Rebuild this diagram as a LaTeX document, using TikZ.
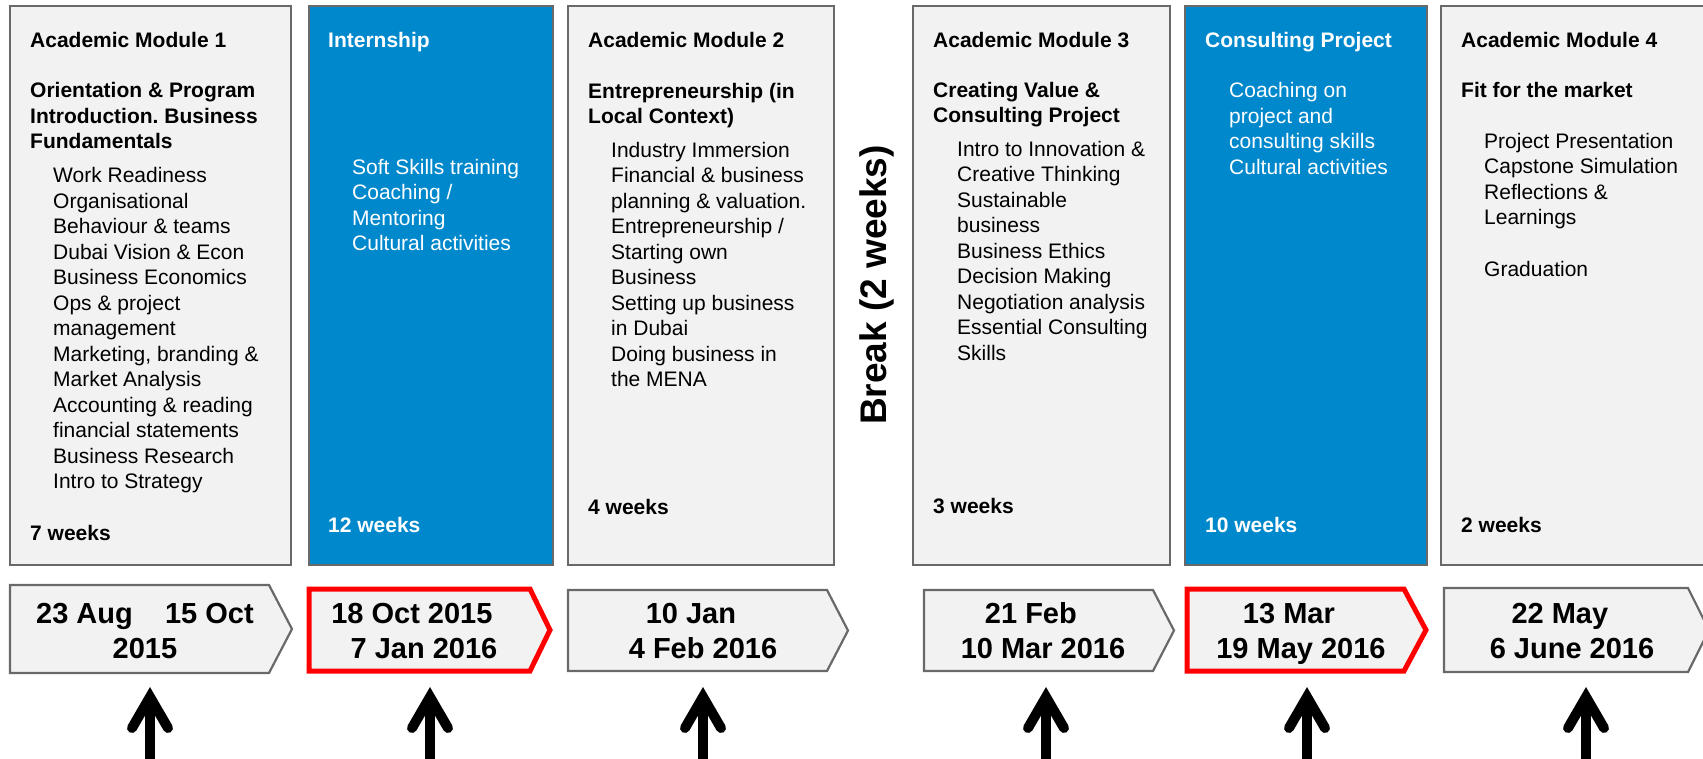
\documentclass[tikz,border=0pt]{standalone}
\usepackage{fontspec}
\setmainfont{Liberation Sans}
\definecolor{boxgray}{HTML}{F2F2F2}
\definecolor{edgegray}{HTML}{696969}
\definecolor{blu}{HTML}{0088CC}
\newcommand\txtlines[5]{%
  \foreach \lbl [count=\i from 0] in {#5}
    \node[#1] (#4\i) at (#2, #3+25.5*\i) {\lbl};}
\frenchspacing
\begin{document}
\begin{tikzpicture}[x=1pt,y=-1pt,
  graybox/.style={draw=edgegray, line width=2.2pt, fill=boxgray},
  bluebox/.style={draw=edgegray, line width=2.2pt, fill=blu},
  pent/.style={draw=edgegray, line width=2.2pt, fill=boxgray, line join=miter},
  redpent/.style={draw=red, line width=5pt, fill=boxgray, line join=miter},
  ttl/.style={anchor=base west, inner sep=0pt, font=\frenchspacing\bfseries\fontsize{21}{25.5}\selectfont},
  body/.style={anchor=base west, inner sep=0pt, font=\frenchspacing\fontsize{21}{25.5}\selectfont},
  datetxt/.style={anchor=center, inner sep=0pt, align=center, font=\bfseries\fontsize{29}{35}\selectfont},
  shaft/.style={line width=10.5pt},
  head/.style={line width=10pt, line cap=round, line join=miter}]
\useasboundingbox (0,0) rectangle (1703,758);

% module boxes
\draw[graybox] (10,6) rectangle (291,565);
\draw[bluebox] (309,6) rectangle (553,565);
\draw[graybox] (568,6) rectangle (834,565);
\draw[graybox] (913,6) rectangle (1170,565);
\draw[bluebox] (1185,6) rectangle (1427,565);
\draw[graybox] (1441,6) rectangle (1712,565);

% box 1
\node[ttl] (t1) at (30,47.5) {Academic Module 1};
\txtlines{ttl}{30}{97.5}{s1}{Orientation \& Program, Introduction.\ Business, Fundamentals}
\txtlines{body}{53}{182.5}{b1}{Work Readiness, Organisational, Behaviour \& teams, Dubai Vision \& Econ, Business Economics, Ops \& project, management, {Marketing, branding \&}, Market Analysis, Accounting \& reading, financial statements, Business Research, Intro to Strategy}
\node[ttl] (w1) at (30,540.5) {7 weeks};

% box 2
\node[ttl, text=white] (t2) at (328,47) {Internship};
\txtlines{body, text=white}{352}{174}{b2}{Soft Skills training, Coaching /, Mentoring, Cultural activities}
\node[ttl, text=white] (w2) at (328,532) {12 weeks};

% box 3
\node[ttl] (t3) at (588,47.5) {Academic Module 2};
\txtlines{ttl}{588}{98}{s3}{Entrepreneurship (in, Local Context)}
\txtlines{body}{611}{157}{b3}{Industry Immersion, Financial \& business, planning \& valuation., Entrepreneurship /, Starting own, Business, Setting up business, in Dubai, Doing business in, the MENA}
\node[ttl] (w3) at (588,514) {4 weeks};

% break
\node[rotate=90, inner sep=0pt, font=\bfseries\fontsize{37}{40}\selectfont] (brk) at (877,285) {Break (2 weeks)};

% box 4
\node[ttl] (t4) at (933,47) {Academic Module 3};
\txtlines{ttl}{933}{97}{s4}{Creating Value \&, Consulting Project}
\txtlines{body}{957}{156}{b4}{Intro to Innovation \&, Creative Thinking, Sustainable, business, Business Ethics, Decision Making, Negotiation analysis, Essential Consulting, Skills}
\node[ttl] (w4) at (933,513) {3 weeks};

% box 5
\node[ttl, text=white] (t5) at (1205,47) {Consulting Project};
\txtlines{body, text=white}{1229}{97.5}{b5}{Coaching on, project and, consulting skills, Cultural activities}
\node[ttl, text=white] (w5) at (1205,532) {10 weeks};

% box 6
\node[ttl] (t6) at (1461,47) {Academic Module 4};
\node[ttl] (s6) at (1461,97) {Fit for the market};
\txtlines{body}{1484}{148}{b6}{Project Presentation, Capstone Simulation, Reflections \&, Learnings}
\node[body] (g6) at (1484,276) {Graduation};
\node[ttl] (w6) at (1461,532) {2 weeks};

% date pentagons
\draw[pent] (10,585) -- (269,585) -- (292,629) -- (269,673) -- (10,673) -- cycle;
\draw[redpent] (309,589) -- (530,589) -- (550,630) -- (530,671) -- (309,671) -- cycle;
\draw[pent] (568,590) -- (827,590) -- (848,630.5) -- (827,671) -- (568,671) -- cycle;
\draw[pent] (924,590) -- (1153,590) -- (1174,630.5) -- (1153,671) -- (924,671) -- cycle;
\draw[redpent] (1187,589) -- (1404,589) -- (1426,630) -- (1404,671) -- (1187,671) -- cycle;
\draw[pent] (1444,588) -- (1688,588) -- (1709,630) -- (1688,672) -- (1444,672) -- cycle;

\node[datetxt] (d1) at (145,633.5) {\strut 23 Aug\ \phantom{\textendash}\ 15 Oct\\\strut 2015};
\node[datetxt] (d2) at (424,634) {\strut 18 Oct 2015\ \phantom{\textendash}\\\strut 7 Jan 2016};
\node[datetxt] (d3) at (703,633.5) {\strut 10 Jan\ \phantom{\textendash}\\\strut 4 Feb 2016};
\node[datetxt] (d4) at (1043,633.5) {\strut 21 Feb\ \phantom{\textendash}\\\strut 10 Mar 2016};
\node[datetxt] (d5) at (1301,633.5) {\strut 13 Mar\ \phantom{\textendash}\\\strut 19 May 2016};
\node[datetxt] (d6) at (1572,633.5) {\strut 22 May\ \phantom{\textendash}\\\strut 6 June 2016};

% up arrows
\foreach \ax [count=\k] in {150,430,703,1046,1307,1586} {
  \coordinate (ab\k) at (\ax,762);
  \coordinate (at\k) at (\ax,697);
  \draw[shaft] (ab\k) -- (at\k);
  \draw[head] (at\k) ++(-18,31) -- (at\k) -- ++(18,31);
}
\end{tikzpicture}
\end{document}
